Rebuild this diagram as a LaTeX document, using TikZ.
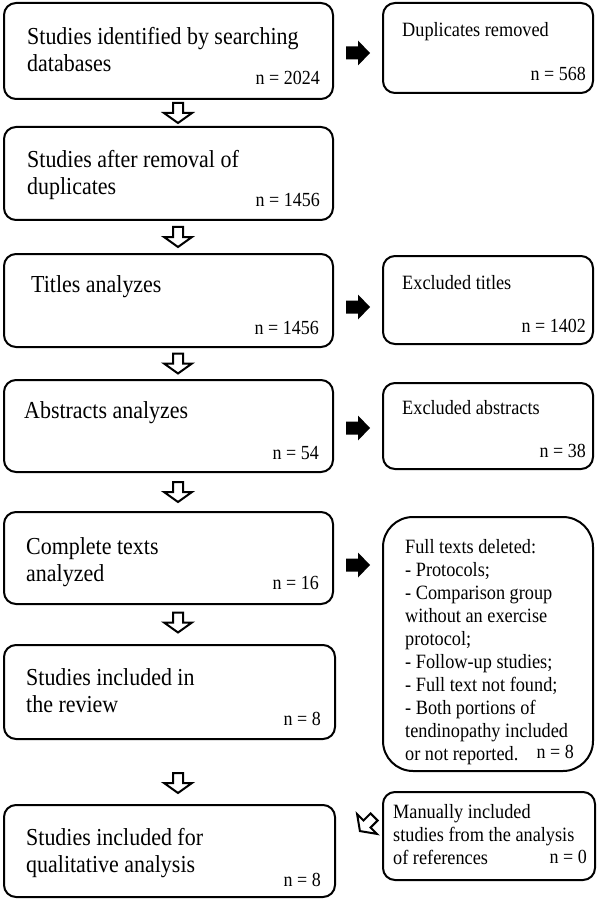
\documentclass[tikz,border=0pt]{standalone}
\usepackage{fontspec}
\setmainfont[FakeStretch=0.9]{Liberation Serif}
\usetikzlibrary{calc}
\tikzset{
  box/.style={draw, line width=2pt, rounded corners=12pt, anchor=north west, inner sep=0pt, outer sep=0pt},
  bigbox/.style={box, rounded corners=30pt},
  lt/.style={anchor=north west, inner sep=0pt, align=left, font=\fontsize{24.4}{27}\selectfont},
  rt/.style={anchor=north west, inner sep=0pt, align=left, font=\fontsize{20.3}{23}\selectfont},
  nl/.style={anchor=base east, inner sep=0pt, font=\fontsize{20}{22}\selectfont},
  nr/.style={anchor=base east, inner sep=0pt, font=\fontsize{20}{22}\selectfont},
  blk/.pic={\fill[black] (-12pt,6.5pt) -- (0pt,6.5pt) -- (0pt,12.5pt) -- (12pt,0pt) -- (0pt,-12.5pt) -- (0pt,-6.5pt) -- (-12pt,-6.5pt) -- cycle;},
  hol/.pic={\draw[line width=2pt, fill=white, line join=miter] (-5pt,10pt) -- (5pt,10pt) -- (5pt,0pt) -- (14pt,0pt) -- (0pt,-10pt) -- (-14pt,0pt) -- (-5pt,0pt) -- cycle;}
}
\begin{document}
\begin{tikzpicture}
\useasboundingbox (0pt,0pt) rectangle (597pt,-901pt);
\fill[white] (0pt,0pt) rectangle (597pt,-901pt);
% left boxes
\node[box, minimum width=329pt, minimum height=96pt] (b1) at (4pt,-3pt) {};
\node[box, minimum width=329pt, minimum height=93pt] (b2) at (4pt,-127pt) {};
\node[box, minimum width=329pt, minimum height=93pt] (b3) at (4pt,-254pt) {};
\node[box, minimum width=329pt, minimum height=92pt] (b4) at (4pt,-380pt) {};
\node[box, minimum width=329pt, minimum height=92pt] (b5) at (4pt,-512pt) {};
\node[box, minimum width=331pt, minimum height=94pt] (b6) at (4pt,-645pt) {};
\node[box, minimum width=331pt, minimum height=92pt] (b7) at (4pt,-805pt) {};
% right boxes
\node[box, minimum width=210pt, minimum height=90pt] (r1) at (383pt,-3pt) {};
\node[box, minimum width=210pt, minimum height=88pt] (r3) at (383pt,-256pt) {};
\node[box, minimum width=210pt, minimum height=86pt] (r4) at (383pt,-383pt) {};
\node[bigbox, minimum width=210pt, minimum height=254pt] (r5) at (383pt,-517pt) {};
\node[box, minimum width=212pt, minimum height=88pt] (r7) at (383pt,-792pt) {};
% texts left
\node[lt] (b1t) at ([xshift=23pt,yshift=-24pt]b1.north west) {Studies identified by searching\\databases};
\node[nl] (b1n) at ([xshift=-13pt,yshift=14pt]b1.south east) {n = 2024};
\node[lt] (b2t) at ([xshift=23pt,yshift=-23pt]b2.north west) {Studies after removal of\\duplicates};
\node[nl] (b2n) at ([xshift=-13pt,yshift=13pt]b2.south east) {n = 1456};
\node[lt] (b3t) at ([xshift=27pt,yshift=-21pt]b3.north west) {Titles analyzes};
\node[nl] (b3n) at ([xshift=-14pt,yshift=13pt]b3.south east) {n = 1456};
\node[lt] (b4t) at ([xshift=20pt,yshift=-21pt]b4.north west) {Abstracts analyzes};
\node[nl] (b4n) at ([xshift=-14pt,yshift=13pt]b4.south east) {n = 54};
\node[lt] (b5t) at ([xshift=22pt,yshift=-25pt]b5.north west) {Complete texts\\analyzed};
\node[nl] (b5n) at ([xshift=-14pt,yshift=15pt]b5.south east) {n = 16};
\node[lt] (b6t) at ([xshift=22pt,yshift=-23pt]b6.north west) {Studies included in\\the review};
\node[nl] (b6n) at ([xshift=-14pt,yshift=14pt]b6.south east) {n = 8};
\node[lt] (b7t) at ([xshift=22pt,yshift=-23pt]b7.north west) {Studies included for\\qualitative analysis};
\node[nl] (b7n) at ([xshift=-14pt,yshift=11pt]b7.south east) {n = 8};
% texts right
\node[rt] (r1t) at ([xshift=19pt,yshift=-19pt]r1.north west) {Duplicates removed};
\node[nr] (r1n) at ([xshift=-7pt,yshift=12pt]r1.south east) {n = 568};
\node[rt] (r3t) at ([xshift=19pt,yshift=-19pt]r3.north west) {Excluded titles};
\node[nr] (r3n) at ([xshift=-7pt,yshift=12pt]r3.south east) {n = 1402};
\node[rt] (r4t) at ([xshift=19pt,yshift=-17pt]r4.north west) {Excluded abstracts};
\node[nr] (r4n) at ([xshift=-7pt,yshift=12pt]r4.south east) {n = 38};
\node[rt] (r5t) at ([xshift=22pt,yshift=-22pt]r5.north west) {Full texts deleted:\\- Protocols;\\- Comparison group\\without an exercise\\protocol;\\- Follow-up studies;\\- Full text not found;\\- Both portions of\\tendinopathy included\\or not reported.};
\node[nr] (r5n) at ([xshift=-19pt,yshift=13pt]r5.south east) {n = 8};
\node[rt] (r7t) at ([xshift=10pt,yshift=-12pt]r7.north west) {Manually included\\studies from the analysis\\of references};
\node[nr] (r7n) at ([xshift=-8pt,yshift=17pt]r7.south east) {n = 0};
% black arrows (left boxes to right boxes)
\path let \p1=(b1.east), \p2=(r1.west) in pic at ({(\x1+\x2)/2},-53pt) {blk};
\path let \p1=(b3.east), \p2=(r3.west) in pic at ({(\x1+\x2)/2},-307pt) {blk};
\path let \p1=(b4.east), \p2=(r4.west) in pic at ({(\x1+\x2)/2},-428pt) {blk};
\path let \p1=(b5.east), \p2=(r5.west) in pic at ({(\x1+\x2)/2},-565pt) {blk};
% hollow down arrows
\path let \p1=(b1.south), \p2=(b2.north) in pic at (178pt,{(\y1+\y2)/2}) {hol};
\path let \p1=(b2.south), \p2=(b3.north) in pic at (178pt,{(\y1+\y2)/2}) {hol};
\path let \p1=(b3.south), \p2=(b4.north) in pic at (178pt,{(\y1+\y2)/2}) {hol};
\path let \p1=(b4.south), \p2=(b5.north) in pic at (178pt,{(\y1+\y2)/2}) {hol};
\path let \p1=(b5.south), \p2=(b6.north) in pic at (178pt,{(\y1+\y2)/2+2pt}) {hol};
\path let \p1=(b6.south) in pic at (178pt,{\y1-44pt}) {hol};
% diagonal hollow arrow (from manual box toward final box)
\path let \p1=(b7.east), \p2=(r7.west) in pic[rotate=-45] at ({(\x1+\x2)/2+8pt},-824pt) {hol};
\end{tikzpicture}
\end{document}
